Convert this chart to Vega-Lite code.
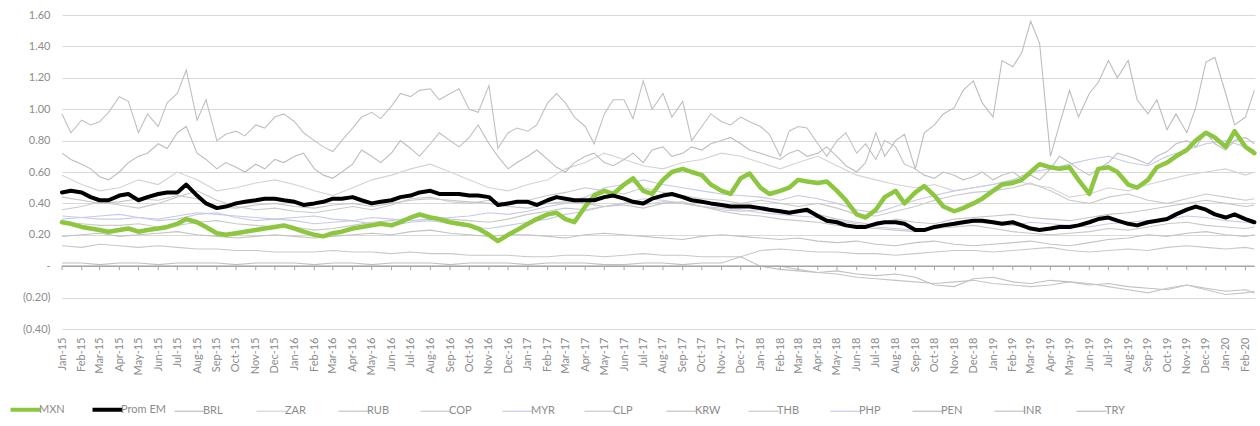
{
"$schema": "https://vega.github.io/schema/vega-lite/v6.json",
"width": 1193, "height": 314,
"autosize": {"type": "none"},
"padding": {"left": 62, "top": 15, "right": 5, "bottom": 97},
"background": "white",
"config": {"view": {"stroke": null}, "font": "Lato", "axis": {"labelFont": "Lato"}, "legend": {"labelFont": "Lato"}},
"datasets": {
"s": [
{"d":"2015-01-01","MXN":0.28,"Prom EM":0.47,"BRL":0.97,"TRY":0.72},{"d":"2015-01-15","MXN":0.27,"Prom EM":0.48,"BRL":0.85,"TRY":0.68},
{"d":"2015-02-01","MXN":0.25,"Prom EM":0.47,"BRL":0.93,"TRY":0.65},{"d":"2015-02-15","MXN":0.24,"Prom EM":0.44,"BRL":0.90,"TRY":0.62},
{"d":"2015-03-01","MXN":0.23,"Prom EM":0.42,"BRL":0.92,"TRY":0.57},{"d":"2015-03-15","MXN":0.22,"Prom EM":0.42,"BRL":0.98,"TRY":0.55},
{"d":"2015-04-01","MXN":0.23,"Prom EM":0.45,"BRL":1.08,"TRY":0.60},{"d":"2015-04-15","MXN":0.24,"Prom EM":0.46,"BRL":1.05,"TRY":0.66},
{"d":"2015-05-01","MXN":0.22,"Prom EM":0.42,"BRL":0.85,"TRY":0.70},{"d":"2015-05-15","MXN":0.23,"Prom EM":0.44,"BRL":0.97,"TRY":0.72},
{"d":"2015-06-01","MXN":0.24,"Prom EM":0.46,"BRL":0.89,"TRY":0.78},{"d":"2015-06-15","MXN":0.25,"Prom EM":0.47,"BRL":1.04,"TRY":0.75},
{"d":"2015-07-01","MXN":0.27,"Prom EM":0.47,"BRL":1.10,"TRY":0.85},{"d":"2015-07-15","MXN":0.30,"Prom EM":0.52,"BRL":1.25,"TRY":0.89},
{"d":"2015-08-01","MXN":0.28,"Prom EM":0.45,"BRL":0.93,"TRY":0.72},{"d":"2015-08-15","MXN":0.25,"Prom EM":0.40,"BRL":1.06,"TRY":0.68},
{"d":"2015-09-01","MXN":0.21,"Prom EM":0.37,"BRL":0.80,"TRY":0.62},{"d":"2015-09-15","MXN":0.20,"Prom EM":0.38,"BRL":0.84,"TRY":0.66},
{"d":"2015-10-01","MXN":0.21,"Prom EM":0.40,"BRL":0.86,"TRY":0.63},{"d":"2015-10-15","MXN":0.22,"Prom EM":0.41,"BRL":0.83,"TRY":0.60},
{"d":"2015-11-01","MXN":0.23,"Prom EM":0.42,"BRL":0.90,"TRY":0.65},{"d":"2015-11-15","MXN":0.24,"Prom EM":0.43,"BRL":0.88,"TRY":0.62},
{"d":"2015-12-01","MXN":0.25,"Prom EM":0.43,"BRL":0.95,"TRY":0.68},{"d":"2015-12-15","MXN":0.26,"Prom EM":0.42,"BRL":0.97,"TRY":0.66},
{"d":"2016-01-01","MXN":0.24,"Prom EM":0.41,"BRL":0.92,"TRY":0.70},{"d":"2016-01-15","MXN":0.22,"Prom EM":0.39,"BRL":0.85,"TRY":0.72},
{"d":"2016-02-01","MXN":0.20,"Prom EM":0.40,"BRL":0.80,"TRY":0.62},{"d":"2016-02-15","MXN":0.19,"Prom EM":0.41,"BRL":0.76,"TRY":0.58},
{"d":"2016-03-01","MXN":0.21,"Prom EM":0.43,"BRL":0.73,"TRY":0.56},{"d":"2016-03-15","MXN":0.22,"Prom EM":0.43,"BRL":0.80,"TRY":0.60},
{"d":"2016-04-01","MXN":0.24,"Prom EM":0.44,"BRL":0.88,"TRY":0.65},{"d":"2016-04-15","MXN":0.25,"Prom EM":0.42,"BRL":0.95,"TRY":0.74},
{"d":"2016-05-01","MXN":0.26,"Prom EM":0.40,"BRL":0.98,"TRY":0.70},{"d":"2016-05-15","MXN":0.27,"Prom EM":0.41,"BRL":0.94,"TRY":0.66},
{"d":"2016-06-01","MXN":0.26,"Prom EM":0.42,"BRL":1.02,"TRY":0.72},{"d":"2016-06-15","MXN":0.28,"Prom EM":0.44,"BRL":1.10,"TRY":0.80},
{"d":"2016-07-01","MXN":0.31,"Prom EM":0.45,"BRL":1.08,"TRY":0.75},{"d":"2016-07-15","MXN":0.33,"Prom EM":0.47,"BRL":1.12,"TRY":0.70},
{"d":"2016-08-01","MXN":0.31,"Prom EM":0.48,"BRL":1.13,"TRY":0.78},{"d":"2016-08-15","MXN":0.30,"Prom EM":0.46,"BRL":1.06,"TRY":0.85},
{"d":"2016-09-01","MXN":0.28,"Prom EM":0.46,"BRL":1.10,"TRY":0.80},{"d":"2016-09-15","MXN":0.27,"Prom EM":0.46,"BRL":1.13,"TRY":0.76},
{"d":"2016-10-01","MXN":0.26,"Prom EM":0.45,"BRL":1.00,"TRY":0.82},{"d":"2016-10-15","MXN":0.24,"Prom EM":0.45,"BRL":0.98,"TRY":0.90},
{"d":"2016-11-01","MXN":0.20,"Prom EM":0.44,"BRL":1.15,"TRY":0.78},{"d":"2016-11-15","MXN":0.16,"Prom EM":0.39,"BRL":0.75,"TRY":0.70},
{"d":"2016-12-01","MXN":0.20,"Prom EM":0.40,"BRL":0.85,"TRY":0.62},{"d":"2016-12-15","MXN":0.23,"Prom EM":0.41,"BRL":0.88,"TRY":0.66},
{"d":"2017-01-01","MXN":0.27,"Prom EM":0.41,"BRL":0.86,"TRY":0.70},{"d":"2017-01-15","MXN":0.30,"Prom EM":0.39,"BRL":0.90,"TRY":0.74},
{"d":"2017-02-01","MXN":0.33,"Prom EM":0.42,"BRL":1.04,"TRY":0.68},{"d":"2017-02-15","MXN":0.34,"Prom EM":0.44,"BRL":1.10,"TRY":0.63},
{"d":"2017-03-01","MXN":0.30,"Prom EM":0.43,"BRL":1.04,"TRY":0.60},{"d":"2017-03-15","MXN":0.28,"Prom EM":0.42,"BRL":0.95,"TRY":0.66},
{"d":"2017-04-01","MXN":0.38,"Prom EM":0.42,"BRL":0.89,"TRY":0.70},{"d":"2017-04-15","MXN":0.45,"Prom EM":0.42,"BRL":0.78,"TRY":0.72},
{"d":"2017-05-01","MXN":0.48,"Prom EM":0.44,"BRL":0.97,"TRY":0.66},{"d":"2017-05-15","MXN":0.46,"Prom EM":0.45,"BRL":1.06,"TRY":0.64},
{"d":"2017-06-01","MXN":0.52,"Prom EM":0.43,"BRL":1.06,"TRY":0.68},{"d":"2017-06-15","MXN":0.56,"Prom EM":0.41,"BRL":0.94,"TRY":0.72},
{"d":"2017-07-01","MXN":0.48,"Prom EM":0.40,"BRL":1.18,"TRY":0.66},{"d":"2017-07-15","MXN":0.46,"Prom EM":0.43,"BRL":1.00,"TRY":0.74},
{"d":"2017-08-01","MXN":0.55,"Prom EM":0.45,"BRL":1.10,"TRY":0.76},{"d":"2017-08-15","MXN":0.60,"Prom EM":0.46,"BRL":0.95,"TRY":0.70},
{"d":"2017-09-01","MXN":0.62,"Prom EM":0.44,"BRL":1.05,"TRY":0.72},{"d":"2017-09-15","MXN":0.60,"Prom EM":0.42,"BRL":0.80,"TRY":0.76},
{"d":"2017-10-01","MXN":0.58,"Prom EM":0.41,"BRL":0.89,"TRY":0.74},{"d":"2017-10-15","MXN":0.52,"Prom EM":0.40,"BRL":0.97,"TRY":0.78},
{"d":"2017-11-01","MXN":0.48,"Prom EM":0.39,"BRL":0.92,"TRY":0.80},{"d":"2017-11-15","MXN":0.46,"Prom EM":0.38,"BRL":0.90,"TRY":0.82},
{"d":"2017-12-01","MXN":0.56,"Prom EM":0.38,"BRL":0.95,"TRY":0.78},{"d":"2017-12-15","MXN":0.59,"Prom EM":0.38,"BRL":0.92,"TRY":0.74},
{"d":"2018-01-01","MXN":0.50,"Prom EM":0.37,"BRL":0.89,"TRY":0.72},{"d":"2018-01-15","MXN":0.46,"Prom EM":0.36,"BRL":0.84,"TRY":0.70},
{"d":"2018-02-01","MXN":0.48,"Prom EM":0.35,"BRL":0.70,"TRY":0.68},{"d":"2018-02-15","MXN":0.50,"Prom EM":0.34,"BRL":0.86,"TRY":0.72},
{"d":"2018-03-01","MXN":0.55,"Prom EM":0.35,"BRL":0.89,"TRY":0.74},{"d":"2018-03-15","MXN":0.54,"Prom EM":0.36,"BRL":0.88,"TRY":0.70},
{"d":"2018-04-01","MXN":0.53,"Prom EM":0.32,"BRL":0.78,"TRY":0.72},{"d":"2018-04-15","MXN":0.54,"Prom EM":0.29,"BRL":0.70,"TRY":0.76},
{"d":"2018-05-01","MXN":0.48,"Prom EM":0.28,"BRL":0.80,"TRY":0.70},{"d":"2018-05-15","MXN":0.42,"Prom EM":0.26,"BRL":0.85,"TRY":0.64},
{"d":"2018-06-01","MXN":0.33,"Prom EM":0.25,"BRL":0.72,"TRY":0.60},{"d":"2018-06-15","MXN":0.31,"Prom EM":0.25,"BRL":0.78,"TRY":0.66},
{"d":"2018-07-01","MXN":0.36,"Prom EM":0.27,"BRL":0.68,"TRY":0.85},{"d":"2018-07-15","MXN":0.44,"Prom EM":0.28,"BRL":0.80,"TRY":0.70},
{"d":"2018-08-01","MXN":0.48,"Prom EM":0.28,"BRL":0.76,"TRY":0.80},{"d":"2018-08-15","MXN":0.40,"Prom EM":0.27,"BRL":0.65,"TRY":0.84},
{"d":"2018-09-01","MXN":0.47,"Prom EM":0.23,"BRL":0.62,"TRY":0.62},{"d":"2018-09-15","MXN":0.51,"Prom EM":0.23,"BRL":0.58,"TRY":0.85},
{"d":"2018-10-01","MXN":0.45,"Prom EM":0.25,"BRL":0.56,"TRY":0.90},{"d":"2018-10-15","MXN":0.38,"Prom EM":0.26,"BRL":0.60,"TRY":0.97},
{"d":"2018-11-01","MXN":0.35,"Prom EM":0.27,"BRL":0.58,"TRY":1.01},{"d":"2018-11-15","MXN":0.37,"Prom EM":0.28,"BRL":0.55,"TRY":1.12},
{"d":"2018-12-01","MXN":0.40,"Prom EM":0.29,"BRL":0.57,"TRY":1.18},{"d":"2018-12-15","MXN":0.43,"Prom EM":0.29,"BRL":0.60,"TRY":1.04},
{"d":"2019-01-01","MXN":0.48,"Prom EM":0.28,"BRL":0.55,"TRY":0.95},{"d":"2019-01-15","MXN":0.52,"Prom EM":0.27,"BRL":0.58,"TRY":1.31},
{"d":"2019-02-01","MXN":0.53,"Prom EM":0.28,"BRL":0.60,"TRY":1.27},{"d":"2019-02-15","MXN":0.55,"Prom EM":0.26,"BRL":0.56,"TRY":1.36},
{"d":"2019-03-01","MXN":0.60,"Prom EM":0.24,"BRL":0.58,"TRY":1.56},{"d":"2019-03-15","MXN":0.65,"Prom EM":0.23,"BRL":0.55,"TRY":1.42},
{"d":"2019-04-01","MXN":0.63,"Prom EM":0.24,"BRL":0.62,"TRY":0.70},{"d":"2019-04-15","MXN":0.62,"Prom EM":0.25,"BRL":0.70,"TRY":0.90},
{"d":"2019-05-01","MXN":0.63,"Prom EM":0.25,"BRL":0.66,"TRY":1.12},{"d":"2019-05-15","MXN":0.55,"Prom EM":0.26,"BRL":0.62,"TRY":0.95},
{"d":"2019-06-01","MXN":0.46,"Prom EM":0.28,"BRL":0.58,"TRY":1.10},{"d":"2019-06-15","MXN":0.62,"Prom EM":0.30,"BRL":0.62,"TRY":1.17},
{"d":"2019-07-01","MXN":0.63,"Prom EM":0.31,"BRL":0.66,"TRY":1.31},{"d":"2019-07-15","MXN":0.60,"Prom EM":0.29,"BRL":0.72,"TRY":1.20},
{"d":"2019-08-01","MXN":0.52,"Prom EM":0.27,"BRL":0.70,"TRY":1.31},{"d":"2019-08-15","MXN":0.50,"Prom EM":0.26,"BRL":0.68,"TRY":1.06},
{"d":"2019-09-01","MXN":0.55,"Prom EM":0.28,"BRL":0.65,"TRY":0.97},{"d":"2019-09-15","MXN":0.63,"Prom EM":0.29,"BRL":0.70,"TRY":1.06},
{"d":"2019-10-01","MXN":0.66,"Prom EM":0.30,"BRL":0.73,"TRY":0.87},{"d":"2019-10-15","MXN":0.70,"Prom EM":0.33,"BRL":0.78,"TRY":0.97},
{"d":"2019-11-01","MXN":0.74,"Prom EM":0.36,"BRL":0.80,"TRY":0.85},{"d":"2019-11-15","MXN":0.80,"Prom EM":0.38,"BRL":0.76,"TRY":1.01},
{"d":"2019-12-01","MXN":0.85,"Prom EM":0.36,"BRL":0.85,"TRY":1.30},{"d":"2019-12-15","MXN":0.82,"Prom EM":0.33,"BRL":0.78,"TRY":1.33},
{"d":"2020-01-01","MXN":0.76,"Prom EM":0.31,"BRL":0.74,"TRY":1.10},{"d":"2020-01-15","MXN":0.86,"Prom EM":0.33,"BRL":0.80,"TRY":0.90},
{"d":"2020-02-01","MXN":0.76,"Prom EM":0.30,"BRL":0.82,"TRY":0.95},{"d":"2020-02-15","MXN":0.72,"Prom EM":0.28,"BRL":0.78,"TRY":1.12}
],
"m": [
{"d":"2015-01-01","ZAR":0.58,"RUB":0.44,"COP":0.36,"MYR":0.32,"CLP":0.28,"KRW":0.19,"THB":0.13,"PHP":0.30,"PEN":0.02,"INR":0},
{"d":"2015-02-01","ZAR":0.52,"RUB":0.42,"COP":0.38,"MYR":0.31,"CLP":0.27,"KRW":0.20,"THB":0.12,"PHP":0.31,"PEN":0.02,"INR":0},
{"d":"2015-03-01","ZAR":0.48,"RUB":0.40,"COP":0.41,"MYR":0.30,"CLP":0.26,"KRW":0.21,"THB":0.14,"PHP":0.32,"PEN":0.01,"INR":0},
{"d":"2015-04-01","ZAR":0.50,"RUB":0.41,"COP":0.39,"MYR":0.30,"CLP":0.26,"KRW":0.19,"THB":0.13,"PHP":0.33,"PEN":0.02,"INR":0},
{"d":"2015-05-01","ZAR":0.55,"RUB":0.43,"COP":0.37,"MYR":0.31,"CLP":0.27,"KRW":0.20,"THB":0.12,"PHP":0.31,"PEN":0.02,"INR":0},
{"d":"2015-06-01","ZAR":0.52,"RUB":0.42,"COP":0.40,"MYR":0.29,"CLP":0.25,"KRW":0.21,"THB":0.13,"PHP":0.30,"PEN":0.01,"INR":0},
{"d":"2015-07-01","ZAR":0.60,"RUB":0.45,"COP":0.44,"MYR":0.30,"CLP":0.26,"KRW":0.22,"THB":0.12,"PHP":0.32,"PEN":0.02,"INR":0},
{"d":"2015-08-01","ZAR":0.55,"RUB":0.43,"COP":0.48,"MYR":0.33,"CLP":0.28,"KRW":0.20,"THB":0.11,"PHP":0.34,"PEN":0.02,"INR":0},
{"d":"2015-09-01","ZAR":0.48,"RUB":0.38,"COP":0.42,"MYR":0.34,"CLP":0.29,"KRW":0.19,"THB":0.11,"PHP":0.33,"PEN":0.02,"INR":0},
{"d":"2015-10-01","ZAR":0.50,"RUB":0.37,"COP":0.38,"MYR":0.31,"CLP":0.27,"KRW":0.18,"THB":0.10,"PHP":0.32,"PEN":0.01,"INR":0},
{"d":"2015-11-01","ZAR":0.53,"RUB":0.39,"COP":0.36,"MYR":0.29,"CLP":0.26,"KRW":0.19,"THB":0.10,"PHP":0.31,"PEN":0.02,"INR":0},
{"d":"2015-12-01","ZAR":0.55,"RUB":0.40,"COP":0.37,"MYR":0.30,"CLP":0.25,"KRW":0.20,"THB":0.09,"PHP":0.30,"PEN":0.02,"INR":0},
{"d":"2016-01-01","ZAR":0.52,"RUB":0.38,"COP":0.35,"MYR":0.29,"CLP":0.25,"KRW":0.19,"THB":0.09,"PHP":0.31,"PEN":0.02,"INR":0},
{"d":"2016-02-01","ZAR":0.48,"RUB":0.37,"COP":0.34,"MYR":0.27,"CLP":0.23,"KRW":0.18,"THB":0.09,"PHP":0.32,"PEN":0.01,"INR":0},
{"d":"2016-03-01","ZAR":0.45,"RUB":0.39,"COP":0.36,"MYR":0.28,"CLP":0.24,"KRW":0.19,"THB":0.10,"PHP":0.30,"PEN":0.02,"INR":0},
{"d":"2016-04-01","ZAR":0.50,"RUB":0.40,"COP":0.38,"MYR":0.29,"CLP":0.26,"KRW":0.20,"THB":0.09,"PHP":0.29,"PEN":0.02,"INR":0},
{"d":"2016-05-01","ZAR":0.55,"RUB":0.38,"COP":0.36,"MYR":0.27,"CLP":0.28,"KRW":0.21,"THB":0.09,"PHP":0.31,"PEN":0.01,"INR":0},
{"d":"2016-06-01","ZAR":0.58,"RUB":0.40,"COP":0.39,"MYR":0.26,"CLP":0.29,"KRW":0.20,"THB":0.08,"PHP":0.30,"PEN":0.02,"INR":0},
{"d":"2016-07-01","ZAR":0.62,"RUB":0.42,"COP":0.43,"MYR":0.28,"CLP":0.31,"KRW":0.22,"THB":0.09,"PHP":0.29,"PEN":0.02,"INR":0},
{"d":"2016-08-01","ZAR":0.65,"RUB":0.43,"COP":0.44,"MYR":0.29,"CLP":0.32,"KRW":0.23,"THB":0.08,"PHP":0.30,"PEN":0.02,"INR":0},
{"d":"2016-09-01","ZAR":0.60,"RUB":0.42,"COP":0.41,"MYR":0.27,"CLP":0.30,"KRW":0.21,"THB":0.08,"PHP":0.31,"PEN":0.01,"INR":0},
{"d":"2016-10-01","ZAR":0.55,"RUB":0.41,"COP":0.40,"MYR":0.25,"CLP":0.29,"KRW":0.20,"THB":0.07,"PHP":0.32,"PEN":0.02,"INR":0},
{"d":"2016-11-01","ZAR":0.50,"RUB":0.40,"COP":0.42,"MYR":0.24,"CLP":0.28,"KRW":0.19,"THB":0.07,"PHP":0.34,"PEN":0.02,"INR":0},
{"d":"2016-12-01","ZAR":0.48,"RUB":0.38,"COP":0.40,"MYR":0.26,"CLP":0.30,"KRW":0.20,"THB":0.07,"PHP":0.33,"PEN":0.02,"INR":0},
{"d":"2017-01-01","ZAR":0.52,"RUB":0.37,"COP":0.42,"MYR":0.28,"CLP":0.33,"KRW":0.20,"THB":0.06,"PHP":0.35,"PEN":0.01,"INR":0},
{"d":"2017-02-01","ZAR":0.55,"RUB":0.40,"COP":0.45,"MYR":0.30,"CLP":0.35,"KRW":0.19,"THB":0.06,"PHP":0.38,"PEN":0.02,"INR":0},
{"d":"2017-03-01","ZAR":0.62,"RUB":0.41,"COP":0.47,"MYR":0.33,"CLP":0.37,"KRW":0.18,"THB":0.07,"PHP":0.40,"PEN":0.02,"INR":0},
{"d":"2017-04-01","ZAR":0.66,"RUB":0.40,"COP":0.50,"MYR":0.35,"CLP":0.36,"KRW":0.20,"THB":0.07,"PHP":0.44,"PEN":0.02,"INR":0},
{"d":"2017-05-01","ZAR":0.72,"RUB":0.38,"COP":0.48,"MYR":0.38,"CLP":0.38,"KRW":0.21,"THB":0.06,"PHP":0.50,"PEN":0.01,"INR":0},
{"d":"2017-06-01","ZAR":0.68,"RUB":0.39,"COP":0.46,"MYR":0.40,"CLP":0.40,"KRW":0.20,"THB":0.07,"PHP":0.52,"PEN":0.01,"INR":0},
{"d":"2017-07-01","ZAR":0.64,"RUB":0.37,"COP":0.50,"MYR":0.43,"CLP":0.39,"KRW":0.19,"THB":0.08,"PHP":0.55,"PEN":0.02,"INR":0},
{"d":"2017-08-01","ZAR":0.62,"RUB":0.40,"COP":0.47,"MYR":0.42,"CLP":0.41,"KRW":0.18,"THB":0.07,"PHP":0.52,"PEN":0.02,"INR":0},
{"d":"2017-09-01","ZAR":0.66,"RUB":0.41,"COP":0.45,"MYR":0.40,"CLP":0.40,"KRW":0.17,"THB":0.07,"PHP":0.50,"PEN":0.01,"INR":0},
{"d":"2017-10-01","ZAR":0.68,"RUB":0.38,"COP":0.43,"MYR":0.38,"CLP":0.38,"KRW":0.19,"THB":0.06,"PHP":0.48,"PEN":0.02,"INR":0},
{"d":"2017-11-01","ZAR":0.72,"RUB":0.36,"COP":0.42,"MYR":0.37,"CLP":0.35,"KRW":0.20,"THB":0.06,"PHP":0.46,"PEN":0.02,"INR":0},
{"d":"2017-12-01","ZAR":0.70,"RUB":0.35,"COP":0.40,"MYR":0.36,"CLP":0.33,"KRW":0.19,"THB":0.06,"PHP":0.45,"PEN":0.06,"INR":0},
{"d":"2018-01-01","ZAR":0.66,"RUB":0.36,"COP":0.42,"MYR":0.34,"CLP":0.32,"KRW":0.18,"THB":0.10,"PHP":0.44,"PEN":0.00,"INR":0},
{"d":"2018-02-01","ZAR":0.62,"RUB":0.34,"COP":0.40,"MYR":0.33,"CLP":0.30,"KRW":0.17,"THB":0.11,"PHP":0.42,"PEN":-0.02,"INR":0},
{"d":"2018-03-01","ZAR":0.66,"RUB":0.35,"COP":0.38,"MYR":0.32,"CLP":0.29,"KRW":0.18,"THB":0.10,"PHP":0.45,"PEN":-0.03,"INR":-0.02},
{"d":"2018-04-01","ZAR":0.70,"RUB":0.33,"COP":0.40,"MYR":0.31,"CLP":0.28,"KRW":0.16,"THB":0.09,"PHP":0.43,"PEN":-0.04,"INR":-0.04},
{"d":"2018-05-01","ZAR":0.64,"RUB":0.30,"COP":0.37,"MYR":0.29,"CLP":0.26,"KRW":0.15,"THB":0.09,"PHP":0.40,"PEN":-0.03,"INR":-0.05},
{"d":"2018-06-01","ZAR":0.58,"RUB":0.28,"COP":0.33,"MYR":0.27,"CLP":0.25,"KRW":0.16,"THB":0.08,"PHP":0.36,"PEN":-0.05,"INR":-0.07},
{"d":"2018-07-01","ZAR":0.55,"RUB":0.26,"COP":0.32,"MYR":0.25,"CLP":0.24,"KRW":0.14,"THB":0.08,"PHP":0.34,"PEN":-0.06,"INR":-0.08},
{"d":"2018-08-01","ZAR":0.52,"RUB":0.30,"COP":0.35,"MYR":0.24,"CLP":0.23,"KRW":0.13,"THB":0.07,"PHP":0.38,"PEN":-0.05,"INR":-0.09},
{"d":"2018-09-01","ZAR":0.50,"RUB":0.28,"COP":0.38,"MYR":0.23,"CLP":0.22,"KRW":0.15,"THB":0.08,"PHP":0.42,"PEN":-0.07,"INR":-0.10},
{"d":"2018-10-01","ZAR":0.52,"RUB":0.27,"COP":0.42,"MYR":0.24,"CLP":0.24,"KRW":0.16,"THB":0.09,"PHP":0.45,"PEN":-0.12,"INR":-0.11},
{"d":"2018-11-01","ZAR":0.48,"RUB":0.30,"COP":0.45,"MYR":0.26,"CLP":0.25,"KRW":0.14,"THB":0.10,"PHP":0.48,"PEN":-0.13,"INR":-0.10},
{"d":"2018-12-01","ZAR":0.50,"RUB":0.31,"COP":0.47,"MYR":0.28,"CLP":0.26,"KRW":0.13,"THB":0.10,"PHP":0.50,"PEN":-0.08,"INR":-0.09},
{"d":"2019-01-01","ZAR":0.52,"RUB":0.32,"COP":0.48,"MYR":0.27,"CLP":0.24,"KRW":0.14,"THB":0.09,"PHP":0.52,"PEN":-0.07,"INR":-0.11},
{"d":"2019-02-01","ZAR":0.55,"RUB":0.33,"COP":0.50,"MYR":0.26,"CLP":0.22,"KRW":0.15,"THB":0.10,"PHP":0.55,"PEN":-0.10,"INR":-0.12},
{"d":"2019-03-01","ZAR":0.52,"RUB":0.31,"COP":0.53,"MYR":0.28,"CLP":0.21,"KRW":0.16,"THB":0.11,"PHP":0.60,"PEN":-0.11,"INR":-0.13},
{"d":"2019-04-01","ZAR":0.50,"RUB":0.30,"COP":0.48,"MYR":0.27,"CLP":0.20,"KRW":0.14,"THB":0.12,"PHP":0.62,"PEN":-0.09,"INR":-0.12},
{"d":"2019-05-01","ZAR":0.44,"RUB":0.29,"COP":0.42,"MYR":0.26,"CLP":0.21,"KRW":0.13,"THB":0.10,"PHP":0.65,"PEN":-0.10,"INR":-0.10},
{"d":"2019-06-01","ZAR":0.46,"RUB":0.31,"COP":0.40,"MYR":0.25,"CLP":0.22,"KRW":0.15,"THB":0.09,"PHP":0.68,"PEN":-0.12,"INR":-0.11},
{"d":"2019-07-01","ZAR":0.50,"RUB":0.33,"COP":0.44,"MYR":0.27,"CLP":0.24,"KRW":0.17,"THB":0.10,"PHP":0.70,"PEN":-0.11,"INR":-0.13},
{"d":"2019-08-01","ZAR":0.48,"RUB":0.34,"COP":0.46,"MYR":0.28,"CLP":0.23,"KRW":0.18,"THB":0.11,"PHP":0.66,"PEN":-0.13,"INR":-0.15},
{"d":"2019-09-01","ZAR":0.52,"RUB":0.36,"COP":0.42,"MYR":0.29,"CLP":0.25,"KRW":0.20,"THB":0.10,"PHP":0.64,"PEN":-0.14,"INR":-0.17},
{"d":"2019-10-01","ZAR":0.55,"RUB":0.38,"COP":0.40,"MYR":0.30,"CLP":0.27,"KRW":0.19,"THB":0.12,"PHP":0.70,"PEN":-0.15,"INR":-0.14},
{"d":"2019-11-01","ZAR":0.58,"RUB":0.40,"COP":0.43,"MYR":0.32,"CLP":0.28,"KRW":0.21,"THB":0.13,"PHP":0.74,"PEN":-0.12,"INR":-0.12},
{"d":"2019-12-01","ZAR":0.60,"RUB":0.42,"COP":0.46,"MYR":0.31,"CLP":0.26,"KRW":0.22,"THB":0.12,"PHP":0.78,"PEN":-0.14,"INR":-0.15},
{"d":"2020-01-01","ZAR":0.62,"RUB":0.40,"COP":0.44,"MYR":0.29,"CLP":0.25,"KRW":0.20,"THB":0.11,"PHP":0.80,"PEN":-0.16,"INR":-0.18},
{"d":"2020-02-01","ZAR":0.58,"RUB":0.38,"COP":0.42,"MYR":0.28,"CLP":0.24,"KRW":0.19,"THB":0.12,"PHP":0.76,"PEN":-0.15,"INR":-0.17},
{"d":"2020-02-15","ZAR":0.60,"RUB":0.39,"COP":0.43,"MYR":0.27,"CLP":0.25,"KRW":0.20,"THB":0.11,"PHP":0.74,"PEN":-0.17,"INR":-0.16}
]
},
"encoding": {
"x": {"field": "d", "type": "temporal",
"scale": {"domain": [{"year": 2015, "month": 1, "date": 1}, {"year": 2020, "month": 2, "date": 16}]},
"axis": {"orient": "bottom", "format": "%b-%y", "labelAngle": -90, "tickCount": {"interval": "month", "step": 1}, "domain": false, "ticks": false, "grid": false, "labelPadding": 8, "labelFontSize": 11, "labelColor": "#8c8c8c", "labelOverlap": false, "labelFlush": false, "labelBound": false, "title": null}}
},
"layer": [
{
"data": {"name": "m"},
"transform": [{"fold": ["ZAR","RUB","COP","MYR","CLP","KRW","THB","PHP","PEN","INR"], "as": ["series","value"]}],
"mark": {"type": "line", "strokeWidth": 1.1},
"encoding": {
"y": {"field": "value", "type": "quantitative",
"scale": {"domain": [-0.4, 1.6], "nice": false, "zero": false},
"axis": {"values": [-0.4,-0.2,0,0.2,0.4,0.6,0.8,1,1.2,1.4,1.6], "labelExpr": "datum.value == 0 ? '-\u00a0\u00a0\u00a0\u00a0' : (datum.value < 0 ? '(' + format(-datum.value, '.2f') + ')' : format(datum.value, '.2f') + '\u00a0')", "grid": true, "gridColor": "#d9d9d9", "gridWidth": 1, "domain": false, "ticks": false, "labelPadding": 12, "labelFontSize": 11, "labelColor": "#8c8c8c", "labelOverlap": false, "title": null}},
"color": {"field": "series", "type": "nominal",
"scale": {"domain": ["MXN","Prom EM","BRL","ZAR","RUB","COP","MYR","CLP","KRW","THB","PHP","PEN","INR","TRY"],
"range": ["#8dc63f","#000000","#c0c0c0","#d4d4d4","#c6c6c6","#cacaca","#c8cbe8","#c9c9c9","#c3c3c3","#c8c8c8","#c6c9ec","#c0c0c0","#c5c5c5","#bdbdbd"]},
"legend": {"orient": "none", "legendX": -42, "legendY": 389, "direction": "horizontal", "columns": 14, "gridAlign": "all", "symbolType": "stroke", "symbolSize": 900, "symbolStrokeWidth": 1.5, "labelFontSize": 11, "labelColor": "#8c8c8c", "labelOffset": 8, "columnPadding": 0, "title": null,
"encode": {"symbols": {"update": {"strokeWidth": {"signal": "datum.value === 'MXN' || datum.value === 'Prom EM' ? 4 : 1.2"}}}}}}
}
},
{
"data": {"name": "m"},
"mark": {"type": "line", "strokeWidth": 1.5, "color": "#a6a6a6"},
"encoding": {"y": {"datum": 0, "type": "quantitative",
"scale": {"domain": [-0.4, 1.6], "nice": false, "zero": false},
"axis": {"values": [-0.4,-0.2,0,0.2,0.4,0.6,0.8,1,1.2,1.4,1.6], "labelExpr": "datum.value == 0 ? '-\u00a0\u00a0\u00a0\u00a0' : (datum.value < 0 ? '(' + format(-datum.value, '.2f') + ')' : format(datum.value, '.2f') + '\u00a0')", "grid": true, "gridColor": "#d9d9d9", "gridWidth": 1, "domain": false, "ticks": false, "labelPadding": 12, "labelFontSize": 11, "labelColor": "#8c8c8c", "labelOverlap": false, "title": null}}}
},
{
"data": {"name": "m"},
"transform": [{"filter": "utcdate(datum.d) == 1"}],
"mark": {"type": "rule", "strokeWidth": 1, "color": "#a6a6a6"},
"encoding": {"y": {"datum": 0, "type": "quantitative",
"scale": {"domain": [-0.4, 1.6], "nice": false, "zero": false},
"axis": {"values": [-0.4,-0.2,0,0.2,0.4,0.6,0.8,1,1.2,1.4,1.6], "labelExpr": "datum.value == 0 ? '-\u00a0\u00a0\u00a0\u00a0' : (datum.value < 0 ? '(' + format(-datum.value, '.2f') + ')' : format(datum.value, '.2f') + '\u00a0')", "grid": true, "gridColor": "#d9d9d9", "gridWidth": 1, "domain": false, "ticks": false, "labelPadding": 12, "labelFontSize": 11, "labelColor": "#8c8c8c", "labelOverlap": false, "title": null}},
"y2": {"datum": -0.025}}
},
{
"data": {"name": "s"},
"transform": [{"fold": ["BRL","TRY"], "as": ["series","value"]}],
"mark": {"type": "line", "strokeWidth": 1.1},
"encoding": {"y": {"field": "value", "type": "quantitative",
"scale": {"domain": [-0.4, 1.6], "nice": false, "zero": false},
"axis": {"values": [-0.4,-0.2,0,0.2,0.4,0.6,0.8,1,1.2,1.4,1.6], "labelExpr": "datum.value == 0 ? '-\u00a0\u00a0\u00a0\u00a0' : (datum.value < 0 ? '(' + format(-datum.value, '.2f') + ')' : format(datum.value, '.2f') + '\u00a0')", "grid": true, "gridColor": "#d9d9d9", "gridWidth": 1, "domain": false, "ticks": false, "labelPadding": 12, "labelFontSize": 11, "labelColor": "#8c8c8c", "labelOverlap": false, "title": null}},
"color": {"field": "series", "type": "nominal"}}
},
{
"data": {"name": "s"},
"transform": [{"fold": ["MXN"], "as": ["series","value"]}],
"mark": {"type": "line", "strokeWidth": 4.5, "strokeJoin": "round", "strokeCap": "round"},
"encoding": {"y": {"field": "value", "type": "quantitative",
"scale": {"domain": [-0.4, 1.6], "nice": false, "zero": false},
"axis": {"values": [-0.4,-0.2,0,0.2,0.4,0.6,0.8,1,1.2,1.4,1.6], "labelExpr": "datum.value == 0 ? '-\u00a0\u00a0\u00a0\u00a0' : (datum.value < 0 ? '(' + format(-datum.value, '.2f') + ')' : format(datum.value, '.2f') + '\u00a0')", "grid": true, "gridColor": "#d9d9d9", "gridWidth": 1, "domain": false, "ticks": false, "labelPadding": 12, "labelFontSize": 11, "labelColor": "#8c8c8c", "labelOverlap": false, "title": null}},
"color": {"field": "series", "type": "nominal"}}
},
{
"data": {"name": "s"},
"transform": [{"fold": ["Prom EM"], "as": ["series","value"]}],
"mark": {"type": "line", "strokeWidth": 4, "strokeJoin": "round", "strokeCap": "round"},
"encoding": {"y": {"field": "value", "type": "quantitative",
"scale": {"domain": [-0.4, 1.6], "nice": false, "zero": false},
"axis": {"values": [-0.4,-0.2,0,0.2,0.4,0.6,0.8,1,1.2,1.4,1.6], "labelExpr": "datum.value == 0 ? '-\u00a0\u00a0\u00a0\u00a0' : (datum.value < 0 ? '(' + format(-datum.value, '.2f') + ')' : format(datum.value, '.2f') + '\u00a0')", "grid": true, "gridColor": "#d9d9d9", "gridWidth": 1, "domain": false, "ticks": false, "labelPadding": 12, "labelFontSize": 11, "labelColor": "#8c8c8c", "labelOverlap": false, "title": null}},
"color": {"field": "series", "type": "nominal"}}
}
]
}
